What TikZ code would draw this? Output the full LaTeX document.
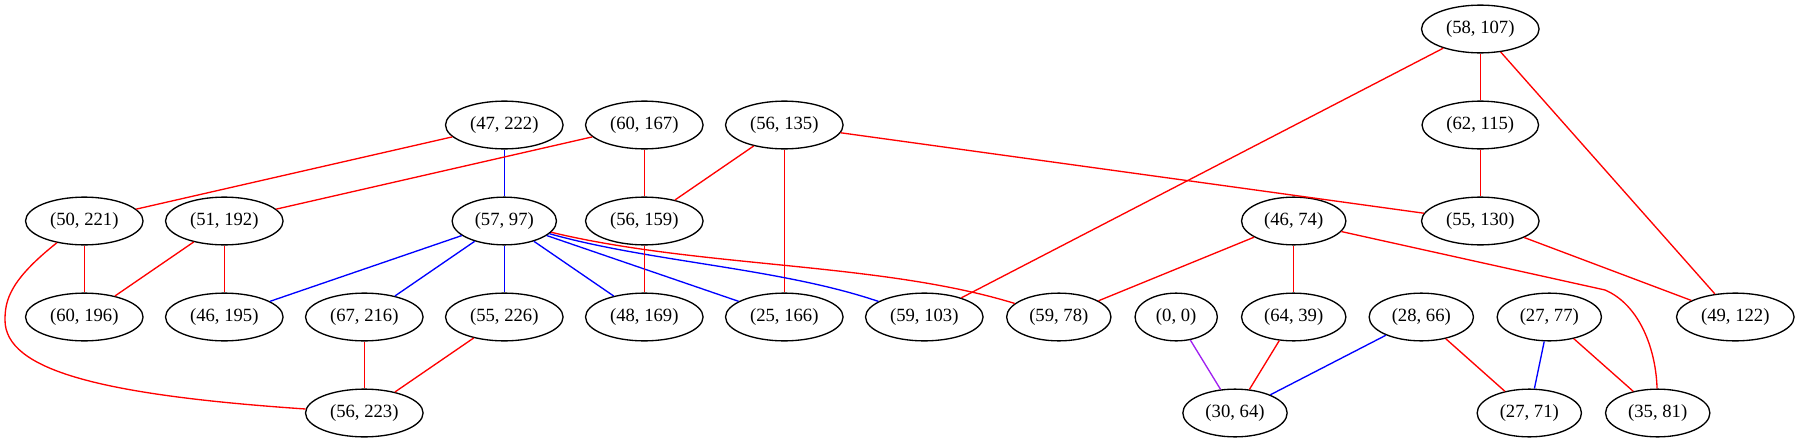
\documentclass[tikz,border=0pt]{standalone}
\usepackage{fontspec}
\setmainfont{Liberation Serif}
\usetikzlibrary{shapes.geometric}
\definecolor{gvpurple}{RGB}{160,32,240}
\tikzset{
  vtx/.style={draw, ellipse, line width=1pt, inner xsep=5.5pt, inner ysep=2pt,
    minimum height=35.8pt, minimum width=61.7pt, font=\fontsize{14pt}{16pt}\selectfont},
  redge/.style={draw=red, line width=1pt},
  bedge/.style={draw=blue, line width=1pt},
  pedge/.style={draw=gvpurple, line width=1pt}
}

\begin{document}
\begin{tikzpicture}[x=0.75pt,y=-0.75pt]
\useasboundingbox (0,0) rectangle (1799,443);
% row 0 and 1
\node[vtx] (v58x107) at (1480.3,29) {(58, 107)};
\node[vtx] (v47x222) at (504.3,125) {(47, 222)};
\node[vtx] (v60x167) at (644.3,125) {(60, 167)};
\node[vtx] (v56x135) at (784.3,125) {(56, 135)};
\node[vtx] (v62x115) at (1480.3,125) {(62, 115)};
% row 2
\node[vtx] (v50x221) at (84.3,221) {(50, 221)};
\node[vtx] (v51x192) at (224.3,221) {(51, 192)};
\node[vtx] (v57x97) at (504.3,221) {(57, 97)};
\node[vtx] (v56x159) at (644.3,221) {(56, 159)};
\node[vtx] (v46x74) at (1293.7,221) {(46, 74)};
\node[vtx] (v55x130) at (1480.3,221) {(55, 130)};
% row 3
\node[vtx] (v60x196) at (84.3,317) {(60, 196)};
\node[vtx] (v46x195) at (224.3,317) {(46, 195)};
\node[vtx] (v67x216) at (364.3,317) {(67, 216)};
\node[vtx] (v55x226) at (504.3,317) {(55, 226)};
\node[vtx] (v48x169) at (644.3,317) {(48, 169)};
\node[vtx] (v25x166) at (784.3,317) {(25, 166)};
\node[vtx] (v59x103) at (924.3,317) {(59, 103)};
\node[vtx] (v59x78) at (1058.8,317) {(59, 78)};
\node[vtx] (v0x0) at (1176.2,317) {(0, 0)};
\node[vtx] (v64x39) at (1293.7,317) {(64, 39)};
\node[vtx] (v28x66) at (1421.3,317) {(28, 66)};
\node[vtx] (v27x77) at (1549.3,317) {(27, 77)};
\node[vtx] (v49x122) at (1735.3,317) {(49, 122)};
% row 4
\node[vtx] (v56x223) at (364.3,413) {(56, 223)};
\node[vtx] (v30x64) at (1235,413) {(30, 64)};
\node[vtx] (v27x71) at (1529.3,413) {(27, 71)};
\node[vtx] (v35x81) at (1657.7,413) {(35, 81)};

\draw[redge] (v58x107) -- (v62x115);
\draw[redge] (v58x107) -- (v59x103);
\draw[redge] (v58x107) -- (v49x122);
\draw[redge] (v62x115) -- (v55x130);
\draw[redge] (v55x130) -- (v49x122);
\draw[redge] (v47x222) -- (v50x221);
\draw[bedge] (v47x222) -- (v57x97);
\draw[redge] (v60x167) -- (v51x192);
\draw[redge] (v60x167) -- (v56x159);
\draw[redge] (v56x135) -- (v56x159);
\draw[redge] (v56x135) -- (v25x166);
\draw[redge] (v56x135) -- (v55x130);
\draw[redge] (v50x221) -- (v60x196);
\draw[redge] (v50x221) .. controls (10,280) and (5,300) .. (5,320)
  .. controls (5,370) and (100,395) .. (v56x223);
\draw[redge] (v51x192) -- (v60x196);
\draw[redge] (v51x192) -- (v46x195);
\draw[bedge] (v57x97) -- (v46x195);
\draw[bedge] (v57x97) -- (v67x216);
\draw[bedge] (v57x97) -- (v55x226);
\draw[bedge] (v57x97) -- (v48x169);
\draw[bedge] (v57x97) -- (v25x166);
\draw[bedge] (v57x97) .. controls (650,262) and (780,268) .. (v59x103);
\draw[redge] (v57x97) .. controls (700,268) and (880,262) .. (v59x78);
\draw[redge] (v56x159) -- (v48x169);
\draw[redge] (v46x74) -- (v59x78);
\draw[redge] (v46x74) -- (v64x39);
\draw[redge] (v46x74) -- (1605,290) .. controls (1640,305) and (1656,350) .. (v35x81);
\draw[redge] (v67x216) -- (v56x223);
\draw[redge] (v55x226) -- (v56x223);
\draw[pedge] (v0x0) -- (v30x64);
\draw[redge] (v64x39) -- (v30x64);
\draw[bedge] (v28x66) -- (v30x64);
\draw[redge] (v28x66) -- (v27x71);
\draw[bedge] (v27x77) -- (v27x71);
\draw[redge] (v27x77) -- (v35x81);
\end{tikzpicture}
\end{document}
